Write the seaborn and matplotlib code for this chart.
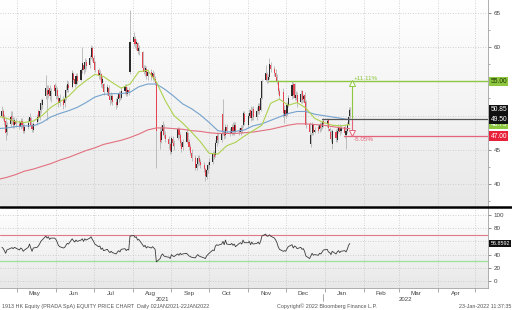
import numpy as np
import pandas as pd
import matplotlib
matplotlib.use("Agg")
import matplotlib.pyplot as plt
import matplotlib.dates as mdates
from matplotlib.ticker import MultipleLocator, NullFormatter, FixedLocator, FixedFormatter
from matplotlib.colors import LinearSegmentedColormap
from matplotlib.lines import Line2D
import seaborn as sns

sns.set_theme(style="white")
plt.rcParams['font.family'] = ['Liberation Sans', 'DejaVu Sans']

# ---------------- data (daily, 19 Apr 2021 - 21 Jan 2022) ----------------
opens = [50.0,50.6,49.8,49.2,47.6, 48.8,50.0,49.4,48.6,49.2, 48.8,48.4,49.2,48.6,47.8, 48.4,49.0,49.6,48.6,47.9,
         49.0,50.6,49.8,50.8,51.6, 52.8,53.8,53.2,54.0,52.8, 54.4,52.8,53.8,52.6,51.8, 52.4,51.8,52.6,53.8,54.4,
         54.2,56.0,55.4,54.6,55.8, 55.2,56.6,57.4,56.8,57.8, 57.4,58.6,59.8,58.4,57.8, 56.6,55.8,56.0,54.8,54.6,
         53.4,54.0,52.8,52.2,52.8, 52.0,51.6,52.4,53.2,52.6, 53.6,54.2,53.2,53.8,56.4, 60.8,61.2,60.4,60.6,59.4,
         59.2,57.0,56.4,56.8,55.8, 56.4,55.6,56.0,55.4,54.7, 47.6,46.4,47.8,48.4,47.2, 46.6,45.8,44.7,46.6,46.0,
         46.8,48.0,47.2,46.0,45.4, 46.2,47.4,46.2,45.4,44.6, 43.8,42.4,43.0,43.8,43.2, 42.8,42.2,41.1,42.0,42.8,
         43.3,44.4,44.2,46.0,47.0, 46.4,50.2,47.6,47.2,48.4, 47.8,47.4,48.4,47.6,48.6, 47.8,47.6,48.2,48.6,50.2,
         48.6,50.0,50.8,49.6,51.0, 49.8,50.6,51.4,50.8,52.6, 55.2,56.0,55.2,55.6,57.4, 56.8,56.2,55.6,55.0,53.6,
         53.4,50.0,50.8,50.2,51.6, 52.8,54.6,54.6,52.6,53.0, 52.0,53.6,52.4,53.0,52.0, 48.8,45.8,47.4,48.6,47.6,
         48.4,48.0,48.8,48.4,49.2, 48.8,49.4,48.0,47.6,45.8, 47.6,46.4,47.8,48.4,47.8, 48.4,47.2,47.8,48.8,49.9]
highs = [51.4,51.0,50.2,49.6,49.0, 50.6,50.6,49.8,49.8,49.6, 49.4,49.6,49.6,49.0,48.8, 49.6,50.4,49.8,48.9,49.0,
         50.2,51.0,51.0,52.4,52.6, 55.9,54.5,54.4,54.4,54.0, 54.8,54.4,54.2,53.0,53.2, 52.8,53.0,54.4,55.2,55.0,
         56.6,56.4,55.8,56.2,56.2, 57.0,60.0,57.8,58.4,58.2, 58.8,60.3,60.2,58.8,58.0, 57.0,56.6,56.2,55.8,54.8,
         54.6,54.4,53.2,53.4,53.2, 52.6,52.8,53.6,53.6,54.2, 54.6,54.6,54.2,54.2,65.4, 62.2,61.6,61.2,60.8,60.3,
         59.4,57.4,57.4,57.2,56.8, 56.8,56.6,56.4,55.8,54.9, 48.4,48.6,49.2,48.8,47.8, 47.0,46.2,47.0,47.0,46.4,
         48.4,48.4,47.6,46.4,46.6, 48.0,47.6,46.6,45.8,45.2, 44.2,43.6,44.2,44.2,43.6, 43.2,42.4,42.4,43.2,43.8,
         44.8,44.8,46.4,47.6,47.4, 47.8,52.4,48.0,48.8,48.8, 48.2,48.8,49.0,49.1,49.0, 48.2,48.6,48.6,50.6,50.6,
         50.4,51.0,51.4,51.2,51.4, 51.2,51.8,51.8,52.8,55.4, 57.4,56.4,56.0,58.4,57.8, 57.2,56.8,56.0,55.2,54.0,
         54.0,51.6,51.2,52.0,53.0, 55.0,54.9,54.8,53.6,53.4, 53.8,53.8,53.2,53.4,52.2, 49.0,47.4,49.1,48.8,48.4,
         48.8,49.0,49.1,49.4,49.6, 49.6,49.6,48.4,47.9,48.0, 48.0,48.2,48.8,48.8,48.6, 48.6,48.2,49.0,51.3,51.2]
lows = [49.6,49.4,48.6,46.4,47.2, 48.4,48.8,48.2,48.2,48.4, 48.0,48.0,48.2,47.4,47.4, 48.0,48.6,48.2,47.6,47.6,
        48.6,49.2,49.4,50.4,51.0, 52.4,49.4,52.6,52.2,52.0, 53.2,52.4,52.4,51.2,51.4, 51.0,51.2,52.2,53.4,53.4,
        54.0,54.8,54.2,54.4,54.6, 55.0,56.2,56.0,56.4,56.8, 57.0,58.2,58.0,57.2,56.4, 55.4,55.2,54.2,54.0,53.0,
        53.0,52.4,51.6,51.8,51.6, 51.0,51.2,52.0,52.2,52.4, 53.2,52.8,52.8,53.0,56.0, 60.2,59.8,59.6,59.0,58.8,
        56.6,56.0,55.8,55.4,55.2, 55.2,55.2,55.0,54.4,42.3, 45.2,46.0,47.2,46.8,46.2, 45.2,44.4,44.4,45.6,45.0,
        46.4,46.8,45.6,44.7,45.0, 46.0,45.8,45.0,44.2,43.4, 42.0,42.0,42.6,42.8,42.4, 41.8,40.4,40.8,41.6,42.4,
        43.0,43.6,44.0,45.6,46.0, 46.2,47.2,46.6,46.8,47.4, 47.0,47.2,47.2,47.2,47.4, 47.2,47.2,47.4,48.4,48.6,
        48.2,49.6,49.2,49.4,49.4, 49.4,50.2,50.2,50.6,52.4, 55.0,54.8,54.8,55.4,56.4, 55.8,55.2,54.6,53.2,52.4,
        49.8,48.9,49.6,50.0,51.2, 52.4,52.6,52.2,52.2,51.3, 51.8,51.8,52.0,51.4,48.2, 47.2,45.4,47.2,47.2,47.4,
        47.4,47.6,47.8,48.0,48.4, 48.4,47.8,47.2,46.2,45.2, 46.2,46.2,47.4,47.2,47.4, 46.8,45.2,47.4,48.6,49.6]
closes = [50.6,49.8,49.0,47.4,48.6, 49.8,49.2,48.6,49.3,48.8, 48.4,49.1,48.7,47.8,48.3, 48.9,49.8,48.6,48.0,48.8,
          49.8,49.6,50.6,51.8,52.2, 54.0,53.0,53.8,52.8,53.6, 53.6,54.0,52.8,51.8,52.6, 51.6,52.4,53.8,54.6,54.0,
          56.2,55.2,54.6,55.8,55.0, 56.6,57.6,56.6,57.8,57.2, 58.4,59.8,58.4,57.6,56.6, 55.8,56.2,54.6,55.4,53.4,
          54.2,52.8,52.2,52.8,52.0, 51.6,52.4,53.2,52.6,53.6, 54.2,53.2,53.8,53.4,60.8, 61.4,60.4,60.8,59.4,59.8,
          57.0,56.4,57.0,55.8,56.4, 55.6,56.2,55.4,54.8,47.8, 46.2,47.8,48.6,47.2,46.6, 45.8,44.8,46.7,46.0,45.6,
          48.1,47.2,46.0,45.2,46.2, 47.6,46.2,45.4,44.6,43.8, 42.4,43.0,43.8,43.2,42.8, 42.2,41.2,42.0,42.8,43.2,
          44.5,44.0,46.0,47.0,46.4, 47.4,47.6,47.0,48.4,47.8, 47.4,48.4,47.6,48.6,47.8, 47.6,48.2,47.9,50.4,49.0,
          50.0,50.4,49.6,50.6,49.8, 50.6,51.4,50.6,52.6,55.0, 56.2,55.2,55.6,57.5,56.8, 56.2,55.6,55.0,53.6,52.8,
          50.4,50.8,50.0,51.6,52.6, 54.5,53.0,52.6,53.0,51.8, 53.2,52.2,52.8,51.8,48.6, 47.6,47.1,48.8,47.6,47.9,
          47.8,48.6,48.2,49.0,48.8, 49.2,48.2,47.8,46.6,47.8, 46.8,47.8,48.4,47.6,48.2, 47.4,47.8,48.6,49.8,50.85]
rsi = [51,49.5,46,42,47, 49.5,50.5,49,51,50, 47,50,48.5,45,47, 51,56,50,45,50,
       51,53,56,60,62, 68,65,67,63,65, 65,63,59,54,52, 50,51,54,57,56,
       64,61,59,62,60, 62,64,60,64,62, 65,67,63,60,56, 52,53,48,50,46,
       48,45,43,45,43, 41,44,46,44,48, 49,46,48,47,68, 69,66,67,62,63,
       55,52,54,50,52, 50,52,50,48,29, 34,39,41,38,37, 36,34,40,38,37,
       41,39,42,40,41, 42,40,38,37,36, 35,38,40,38,37, 35,34,38,40,42,
       47,46,53,55,54, 56,60,55,62,56, 55,57,54,56,52, 57,58,56,62,58,
       58,60,55,59,56, 57,59,56,60,68, 71,68,68,70,68, 65,62,58,52,48,
       45,46,45,49,52, 55,50,53,52,49, 51,48,49,45,38, 34,38,42,39,40,
       39,42,41,44,47, 48,44,43,40,45, 41,44,46,43,45, 46,44,48,54,56.86]

# weekly (Friday) moving-average readings, 16 Apr 2021 - 21 Jan 2022
ma20 = [49.9,49.6,49.1,49.0,49.2,50.0,51.2,52.0,52.8,54.1,55.1,56.0,55.7,54.8,54.0,54.6,56.4,56.6,54.9,52.2,
        50.0,48.9,47.6,46.2,44.5,44.4,45.6,46.1,47.0,47.8,48.6,51.8,52.4,51.5,51.9,51.1,49.6,49.0,48.6,48.5,48.7]
ma50 = [48.1,48.2,48.4,48.5,48.5,49.0,49.8,50.3,50.7,51.2,51.9,52.7,53.1,53.2,53.2,53.4,54.2,54.6,54.6,53.8,
        52.8,51.7,51.0,50.1,49.0,47.8,47.6,47.7,47.9,48.5,48.8,49.3,49.8,50.3,50.6,50.6,50.2,50.0,49.8,49.6,49.4]
ma200 = [40.7,41.0,41.4,41.9,42.2,42.6,43.0,43.5,43.9,44.4,44.9,45.3,45.8,46.1,46.4,46.8,47.3,47.9,48.2,48.2,
         48.1,48.0,47.8,47.7,47.5,47.4,47.4,47.4,47.5,47.6,47.8,48.0,48.3,48.6,48.8,48.8,48.7,48.6,48.4,48.2,48.1]

level_hi = 55.00
level_ref = 49.50
level_lo = 47.00
last_price = 50.85
ma_tag = 48.73
rsi_last = "56.8592"
price_ticks = [40, 45, 50, 55, 60, 65]
price_tick_labels = ["40", "45", "", "", "60", "65"]   # 50 / 55 sit under the value tags
rsi_ticks = [0, 20, 40, 60, 80, 100]
rsi_tick_labels = ["0", "20", "40", "", "80", "100"]    # 60 sits under the RSI tag

dates = pd.bdate_range("2021-04-19", "2022-01-21")
ma_dates = pd.date_range("2021-04-16", "2022-01-21", freq="W-FRI")
o, h, l, c = map(np.array, (opens, highs, lows, closes))

# ---------------- figure ----------------
W, H = 512, 310
fig = plt.figure(figsize=(W / 100, H / 100), dpi=100)
fig.patch.set_facecolor("white")
ax = fig.add_axes([0, 1 - 206 / H, 488 / W, 206 / H])
ax2 = fig.add_axes([0, 1 - 288 / H, 488 / W, 80 / H], sharex=ax)

x0 = mdates.date2num(pd.Timestamp("2021-04-17 12:00"))
x1 = x0 + 488 / 1.256

cmap = LinearSegmentedColormap.from_list("g", ["#ffffff", "#e8e8e8"])
for a in (ax, ax2):
    a.imshow(np.linspace(0, 1, 256).reshape(-1, 1), cmap=cmap, aspect="auto",
             extent=(0, 1, 0, 1), origin="upper", transform=a.transAxes, zorder=-10)

GREEN = "#8dc63f"
MA20C = "#add24f"
MA50C = "#74a2cd"
MA200C = "#e2707f"
REDL = "#e4627a"

# candles
xd = mdates.date2num(dates)
up = c >= o
ax.vlines(xd, l, h, color="#a8a8a8", lw=0.5, zorder=2)
ax.bar(xd[up], (c - o)[up], bottom=o[up], width=0.85, color="#2b2b2b", zorder=3, linewidth=0)
ax.bar(xd[~up], (c - o)[~up], bottom=o[~up], width=0.85, color="#e4434f", zorder=3, linewidth=0)

sns.lineplot(x=ma_dates, y=ma200, ax=ax, color=MA200C, lw=0.8, legend=False, zorder=4)
sns.lineplot(x=ma_dates, y=ma50, ax=ax, color=MA50C, lw=0.8, legend=False, zorder=4)
sns.lineplot(x=ma_dates, y=ma20, ax=ax, color=MA20C, lw=0.8, legend=False, zorder=4)

# horizontal levels
xr = mdates.num2date(x1)
ax.plot([pd.Timestamp("2021-11-18"), xr], [level_hi] * 2, color=GREEN, lw=1.0, zorder=5)
ax.plot([pd.Timestamp("2021-12-30"), xr], [level_ref] * 2, color="#555555", lw=0.9, zorder=5)
ax.plot([pd.Timestamp("2022-01-16"), xr], [level_lo] * 2, color=REDL, lw=0.9, zorder=5)

ta = pd.Timestamp("2022-01-23")
ax.plot([ta, ta], [54.75, 49.6], color=GREEN, lw=0.8, zorder=5)
ax.plot([ta], [54.75], marker="^", ms=4, mfc="white", mec=GREEN, mew=0.7, zorder=6)
ax.plot([ta, ta], [49.4, 47.45], color=REDL, lw=0.8, zorder=5)
ax.plot([ta], [47.45], marker="v", ms=4, mfc="white", mec=REDL, mew=0.7, zorder=6)
ax.text(ta + pd.Timedelta(days=1), 55.45, "+11.11%", color=GREEN, fontsize=4.5, va="center", ha="left")
ax.text(ta + pd.Timedelta(days=1.5), 46.45, "-5.05%", color=REDL, fontsize=4.5, va="center", ha="left")

# RSI panel
sns.lineplot(x=dates, y=rsi, ax=ax2, color="#3a3a3a", lw=0.6, legend=False, zorder=4)
ax2.axhline(70, color="#e07a88", lw=0.8, zorder=3)
ax2.axhline(30, color="#9fe29f", lw=1.0, zorder=3)

# axes formatting
for a in (ax, ax2):
    a.set_xlim(x0, x1)
    for s in ("top", "left", "bottom"):
        a.spines[s].set_visible(False)
    a.spines["right"].set_color("#a0a0a0")
    a.spines["right"].set_linewidth(0.6)
    a.yaxis.tick_right()
    a.set_xlabel("")
    a.set_ylabel("")
    a.xaxis.set_major_locator(mdates.MonthLocator())
    a.grid(True, which="major", ls=(0, (1, 2)), color="#c4c4c4", lw=0.6)
    a.tick_params(axis="y", which="major", length=2.5, width=0.6, color="#777777",
                  labelsize=4.5, pad=1.5, labelcolor="#444444", direction="out")
    a.tick_params(axis="y", which="minor", length=1.5, width=0.5, color="#888888", direction="out")
    a.set_axisbelow(True)

ax.set_ylim(36.82, 66.85)
ax.yaxis.set_major_locator(FixedLocator(price_ticks))
ax.yaxis.set_major_formatter(FixedFormatter(price_tick_labels))
ax.yaxis.set_minor_locator(MultipleLocator(2.5))
ax.tick_params(axis="x", which="both", length=0, labelbottom=False)

ax2.set_ylim(-10.6, 110.6)
ax2.yaxis.set_major_locator(FixedLocator(rsi_ticks))
ax2.yaxis.set_major_formatter(FixedFormatter(rsi_tick_labels))
ax2.spines["bottom"].set_visible(True)
ax2.spines["bottom"].set_color("#a0a0a0")
ax2.spines["bottom"].set_linewidth(0.6)
ax2.xaxis.set_major_formatter(NullFormatter())
ax2.xaxis.set_minor_locator(mdates.MonthLocator(bymonthday=15))
ax2.xaxis.set_minor_formatter(mdates.DateFormatter("%b"))
ax2.tick_params(axis="x", which="major", length=3, width=0.5, color="#888888", direction="out", bottom=True)
ax2.tick_params(axis="x", which="minor", length=0, labelsize=4.5, pad=2.0, labelcolor="#444444", bottom=True)

# right-side value tags
def tag(a, y, s, fc, tc, z, fs=4.8):
    a.text(1.005, y, s, transform=a.get_yaxis_transform(), ha="left", va="center", fontsize=fs,
           color=tc, zorder=z, clip_on=False,
           bbox=dict(boxstyle="square,pad=0.18", fc=fc, ec="none"))

tag(ax, level_hi, f"{level_hi:.2f}", GREEN, "#1d3300", 10)
tag(ax, ma_tag, f"{ma_tag:.2f}", GREEN, "#ffffff", 10)
tag(ax, last_price, f"{last_price:.2f}", "#111111", "#ffffff", 11)
tag(ax, level_ref, f"{level_ref:.2f}", "#111111", "#ffffff", 12)
tag(ax, level_lo, f"{level_lo:.2f}", "#e8203a", "#ffffff", 12)
tag(ax2, float(rsi_last), rsi_last, "#111111", "#ffffff", 12, fs=3.9)

# separator and footer
fig.add_artist(Line2D([0, 1], [1 - 207 / H] * 2, color="black", lw=1.8, transform=fig.transFigure))
fig.add_artist(Line2D([323 / W] * 2, [1 - 294 / H, 1 - 301 / H], color="#888888", lw=0.5,
                      transform=fig.transFigure))
fig.text(162 / W, 1 - 299.5 / H, "2021", fontsize=4.3, color="#444444", ha="center", va="center")
fig.text(405 / W, 1 - 299.5 / H, "2022", fontsize=4.3, color="#444444", ha="center", va="center")
fig.text(2 / W, 1 - 306.5 / H, "1913 HK Equity (PRADA SpA) EQUITY PRICE CHART  Daily 02JAN2021-22JAN2022",
         fontsize=3.9, color="#555555", ha="left", va="center")
fig.text(327 / W, 1 - 306.5 / H, "Copyright\u00a9 2022 Bloomberg Finance L.P.", fontsize=3.9,
         color="#555555", ha="center", va="center")
fig.text(511 / W, 1 - 306.5 / H, "23-Jan-2022 11:37:35", fontsize=3.9, color="#555555",
         ha="right", va="center")

fig.savefig("out.png", dpi=100, facecolor="white")
